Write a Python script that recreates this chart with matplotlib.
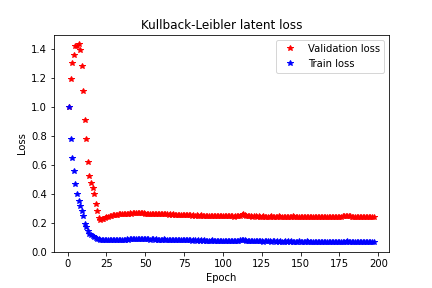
import matplotlib
matplotlib.use('Agg')
from matplotlib import pyplot as plt

# epochs and losses
epochs = list(range(1, 198))

val_loss = [
    1.00, 1.19, 1.30, 1.36, 1.42, 1.42, 1.43, 1.39, 1.28, 1.11,
    0.91, 0.78, 0.62, 0.52, 0.47, 0.44, 0.40, 0.33, 0.28, 0.23,
    0.220, 0.225, 0.228, 0.232, 0.236, 0.240, 0.243, 0.246, 0.249, 0.251,
    0.253, 0.255, 0.257, 0.256, 0.259, 0.260, 0.258, 0.261, 0.262, 0.263,
    0.262, 0.264, 0.265, 0.263, 0.266, 0.264, 0.265, 0.267, 0.264, 0.262,
    0.260, 0.262, 0.259, 0.261, 0.258, 0.260, 0.262, 0.259, 0.257, 0.260,
    0.258, 0.256, 0.259, 0.257, 0.255, 0.257, 0.254, 0.256, 0.253, 0.255,
    0.252, 0.254, 0.251, 0.253, 0.250, 0.252, 0.249, 0.251, 0.250, 0.248,
    0.250, 0.247, 0.249, 0.246, 0.248, 0.250, 0.247, 0.245, 0.248, 0.246,
    0.247, 0.245, 0.248, 0.244, 0.246, 0.245, 0.243, 0.246, 0.244, 0.245,
    0.243, 0.246, 0.244, 0.242, 0.245, 0.243, 0.241, 0.244, 0.245, 0.247,
    0.248, 0.252, 0.256, 0.250, 0.246, 0.244, 0.242, 0.244, 0.241, 0.243,
    0.242, 0.240, 0.243, 0.241, 0.239, 0.242, 0.240, 0.241, 0.238, 0.240,
    0.242, 0.239, 0.241, 0.238, 0.240, 0.242, 0.239, 0.241, 0.238, 0.240,
    0.239, 0.241, 0.238, 0.240, 0.242, 0.239, 0.237, 0.240, 0.238, 0.241,
    0.239, 0.237, 0.240, 0.238, 0.241, 0.239, 0.237, 0.240, 0.238, 0.236,
    0.239, 0.241, 0.238, 0.240, 0.237, 0.239, 0.241, 0.238, 0.236, 0.239,
    0.238, 0.240, 0.237, 0.239, 0.240, 0.241, 0.243, 0.245, 0.247, 0.248,
    0.246, 0.243, 0.241, 0.240, 0.238, 0.239, 0.237, 0.240, 0.238, 0.236,
    0.238, 0.236, 0.239, 0.237, 0.235, 0.238, 0.236,
]

train_loss = [
    1.00, 0.78, 0.643, 0.556, 0.464, 0.395, 0.349, 0.311, 0.277, 0.242,
    0.192, 0.169, 0.139, 0.124, 0.112, 0.105, 0.098, 0.093, 0.088, 0.084,
    0.082, 0.080, 0.079, 0.078, 0.077, 0.078, 0.077, 0.079, 0.078, 0.080,
    0.079, 0.081, 0.080, 0.082, 0.081, 0.083, 0.082, 0.084, 0.083, 0.085,
    0.084, 0.086, 0.085, 0.087, 0.086, 0.088, 0.085, 0.087, 0.086, 0.085,
    0.084, 0.086, 0.083, 0.085, 0.084, 0.082, 0.084, 0.083, 0.081, 0.083,
    0.082, 0.084, 0.081, 0.083, 0.082, 0.080, 0.082, 0.081, 0.079, 0.081,
    0.080, 0.079, 0.081, 0.078, 0.080, 0.079, 0.077, 0.079, 0.078, 0.076,
    0.078, 0.077, 0.075, 0.077, 0.076, 0.078, 0.075, 0.077, 0.076, 0.074,
    0.076, 0.075, 0.077, 0.074, 0.076, 0.075, 0.073, 0.075, 0.074, 0.076,
    0.074, 0.073, 0.075, 0.072, 0.074, 0.073, 0.075, 0.074, 0.075, 0.076,
    0.077, 0.080, 0.082, 0.079, 0.076, 0.074, 0.072, 0.073, 0.071, 0.072,
    0.071, 0.073, 0.070, 0.072, 0.071, 0.069, 0.071, 0.070, 0.072, 0.070,
    0.069, 0.071, 0.070, 0.068, 0.070, 0.069, 0.071, 0.069, 0.068, 0.070,
    0.069, 0.071, 0.068, 0.070, 0.069, 0.067, 0.069, 0.068, 0.070, 0.068,
    0.067, 0.069, 0.068, 0.070, 0.068, 0.067, 0.069, 0.067, 0.068, 0.066,
    0.068, 0.067, 0.069, 0.067, 0.066, 0.068, 0.067, 0.069, 0.067, 0.066,
    0.068, 0.066, 0.067, 0.069, 0.067, 0.066, 0.068, 0.067, 0.069, 0.070,
    0.068, 0.066, 0.067, 0.065, 0.067, 0.066, 0.068, 0.066, 0.065, 0.067,
    0.066, 0.068, 0.066, 0.065, 0.067, 0.066, 0.065,
]

plt.figure(figsize=(6, 4), dpi=72)
plt.subplots_adjust(left=0.125, right=0.9, top=0.88, bottom=0.125)
plt.plot(epochs, val_loss, 'r*', label='Validation loss')
plt.plot(epochs, train_loss, 'b*', label='Train loss')
plt.title('Kullback-Leibler latent loss')
plt.xlabel('Epoch')
plt.ylabel('Loss')
plt.legend(loc='upper right')
plt.savefig('out.png', dpi=72)
